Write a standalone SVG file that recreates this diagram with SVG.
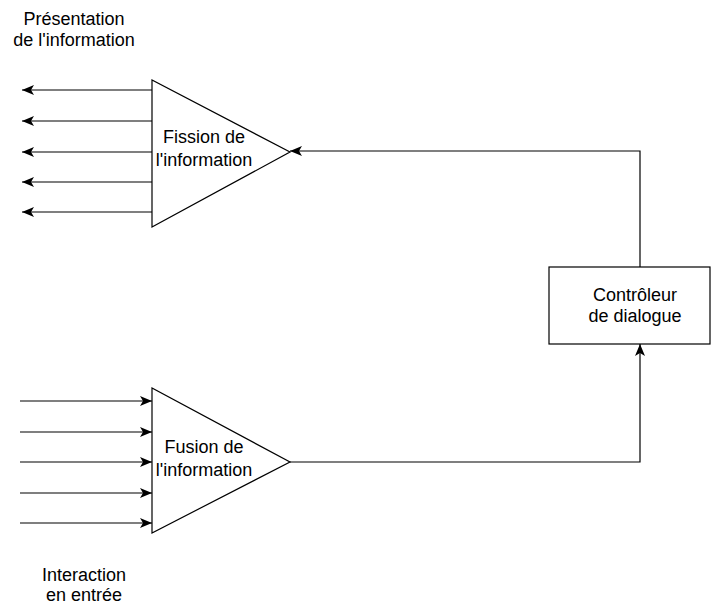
<svg xmlns="http://www.w3.org/2000/svg" width="711" height="605" viewBox="0 0 711 605">
<style>
.s{fill:none;stroke:#000;stroke-width:1.2}
.n{fill:#fff;stroke:#000;stroke-width:1.2}
text{font-family:"Liberation Sans",Arial,sans-serif;font-size:18px;fill:#000;text-anchor:middle}
</style>
<defs>
<marker id="a" viewBox="0 0 12 10" refX="12" refY="5" markerWidth="12" markerHeight="10" markerUnits="userSpaceOnUse" orient="auto">
<path d="M0,0 L12,5 L0,10 L3,5 Z" fill="#000"/>
</marker>
</defs>
<rect width="711" height="605" fill="#fff"/>
<g id="connectors">
<path class="s" d="M152,90 H22" marker-end="url(#a)"/>
<path class="s" d="M152,121 H22" marker-end="url(#a)"/>
<path class="s" d="M152,152 H22" marker-end="url(#a)"/>
<path class="s" d="M152,182 H22" marker-end="url(#a)"/>
<path class="s" d="M152,212 H22" marker-end="url(#a)"/>
<path class="s" d="M20,401 H152" marker-end="url(#a)"/>
<path class="s" d="M20,432 H152" marker-end="url(#a)"/>
<path class="s" d="M20,462 H152" marker-end="url(#a)"/>
<path class="s" d="M20,493 H152" marker-end="url(#a)"/>
<path class="s" d="M20,523 H152" marker-end="url(#a)"/>
<path class="s" d="M640,267 V151 H290" marker-end="url(#a)"/>
<path class="s" d="M290,462 H640 V344" marker-end="url(#a)"/>
</g>
<g id="presentation">
<text x="74" y="25">Présentation</text>
<text x="74" y="46">de l'information</text>
</g>
<g id="fission">
<polygon class="n" points="152,80 152,227 290,152"/>
<text x="204" y="143">Fission de</text>
<text x="204" y="166">l'information</text>
</g>
<g id="fusion">
<polygon class="n" points="152,388 152,533 290,462"/>
<text x="204" y="453">Fusion de</text>
<text x="204" y="476">l'information</text>
</g>
<g id="controleur">
<rect class="n" x="549" y="267" width="161" height="77"/>
<text x="635" y="301">Contrôleur</text>
<text x="635" y="322">de dialogue</text>
</g>
<g id="interaction">
<text x="84" y="581">Interaction</text>
<text x="84" y="601">en entrée</text>
</g>
</svg>
